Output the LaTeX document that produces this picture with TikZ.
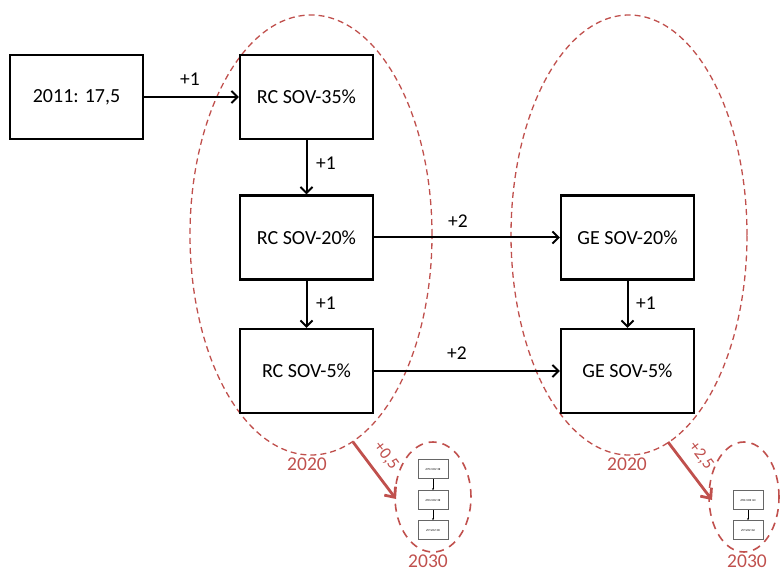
\documentclass[tikz,border=0pt]{standalone}
\usepackage{fontspec}
\setmainfont{Carlito}
\usetikzlibrary{arrows.meta}
\definecolor{redish}{RGB}{192,80,77}
\tikzset{
  box/.style={draw, line width=2.3pt, minimum width=133pt, minimum height=84pt, inner sep=0pt, font=\fontsize{20}{22}\selectfont},
  conn/.style={line width=2pt, -{Straight Barb[length=6pt,width=12pt,line width=2pt]}},
  lbl/.style={font=\fontsize{19.5}{21}\selectfont},
  yearellipse/.style={draw=redish, line width=1.3pt, dash pattern=on 6pt off 4pt},
  smallellipse/.style={draw=redish, line width=1.6pt, dash pattern=on 8pt off 6pt},
  yearlbl/.style={text=redish, font=\fontsize{19.5}{21}\selectfont},
  redarrow/.style={draw=redish, line width=2.8pt, -{Straight Barb[length=8pt,width=14pt,line width=2.8pt]}},
  tinybox/.style={draw=black!60, line width=0.6pt, minimum width=30pt, minimum height=19pt, inner sep=0pt, font=\fontsize{3}{3}\selectfont},
  tinyconn/.style={line width=0.6pt, -{Stealth[length=2pt,width=2pt]}}
}
\begin{document}
\begin{tikzpicture}[x=1pt,y=-1pt]
\useasboundingbox (0,0) rectangle (780,572);
% ellipses
\draw[yearellipse] (311,235) ellipse [x radius=121pt, y radius=220pt];
\draw[yearellipse] (629,235) ellipse [x radius=118pt, y radius=220pt];
\node[yearlbl] (y1) at (307,464) {2020};
\node[yearlbl] (y2) at (627,464) {2020};
% boxes
\node[box] (b2011) at (76.5,97) {2011: 17,5};
\node[box] (rc35) at (306.5,97) {RC SOV-35\%};
\node[box] (rc20) at (306.5,237.5) {RC SOV-20\%};
\node[box] (rc5) at (306.5,371) {RC SOV-5\%};
\node[box] (ge20) at (627.5,237.5) {GE SOV-20\%};
\node[box] (ge5) at (627.5,371) {GE SOV-5\%};
% connectors
\draw[conn] (b2011) -- (rc35);
\draw[conn] (rc35) -- (rc20);
\draw[conn] (rc20) -- (ge20);
\draw[conn] (rc20) -- (rc5);
\draw[conn] (rc5) -- (ge5);
\draw[conn] (ge20) -- (ge5);
\node[lbl] (l1) at (190,79) {+1};
\node[lbl] (l2) at (326,163) {+1};
\node[lbl] (l3) at (458,221) {+2};
\node[lbl] (l4) at (326,303) {+1};
\node[lbl] (l5) at (457,353) {+2};
\node[lbl] (l6) at (646,303) {+1};
% small 2030 groups
\draw[smallellipse] (433,497) ellipse [x radius=38pt, y radius=55pt];
\node[yearlbl] (y3) at (428,561) {2030};
\node[tinybox] (s1) at (433,469) {\scalebox{-1}[1]{RC SOV-35\%}};
\node[tinybox] (s2) at (433,500) {\scalebox{-1}[1]{RC SOV-20\%}};
\node[tinybox] (s3) at (433,530) {\scalebox{-1}[1]{RC SOV-5\%}};
\draw[tinyconn] (s1) -- (s2);
\draw[tinyconn] (s2) -- (s3);
\draw[smallellipse] (744,497) ellipse [x radius=35pt, y radius=55pt];
\node[yearlbl] (y4) at (747,561) {2030};
\node[tinybox] (t1) at (748,500) {\scalebox{-1}[1]{GE SOV-20\%}};
\node[tinybox] (t2) at (748,530) {\scalebox{-1}[1]{GE SOV-5\%}};
\draw[tinyconn] (t1) -- (t2);
% red arrows
\coordinate (a1s) at (353,442);
\coordinate (a1e) at (396,499);
\draw[redarrow] (a1s) -- (a1e);
\node[yearlbl, rotate=-53, font=\fontsize{17}{19}\selectfont] (p1) at (386,456) {+0,5};
\coordinate (a2s) at (668,442);
\coordinate (a2e) at (712,500);
\draw[redarrow] (a2s) -- (a2e);
\node[yearlbl, rotate=-53, font=\fontsize{17}{19}\selectfont] (p2) at (701,456) {+2,5};
\end{tikzpicture}
\end{document}
